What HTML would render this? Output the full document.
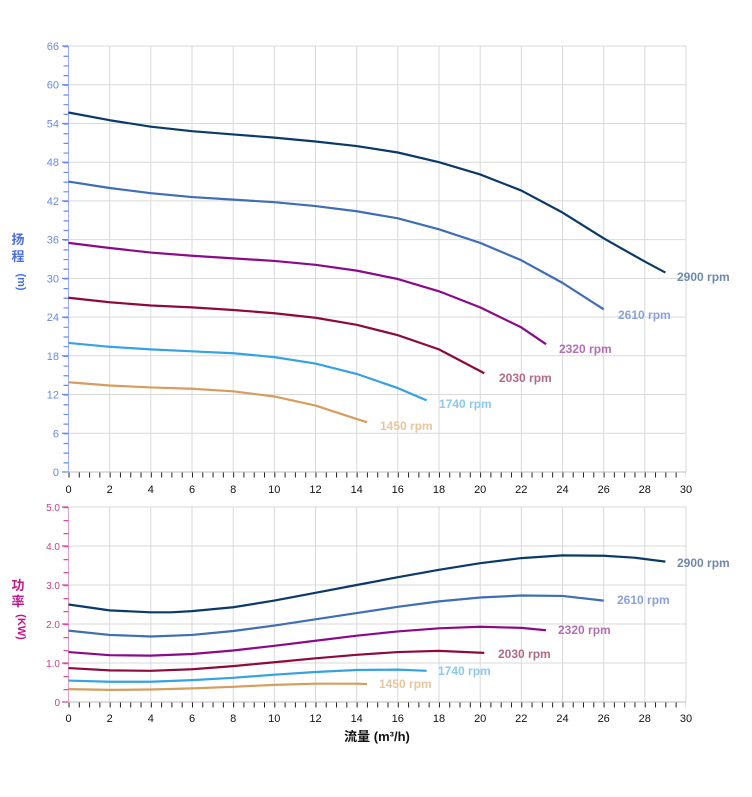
<!DOCTYPE html>
<html><head><meta charset="utf-8"><style>
html,body{margin:0;padding:0;background:#fff;}
svg{display:block;font-family:"Liberation Sans","Noto Sans CJK SC",sans-serif;}
</style></head><body>
<svg width="752" height="797" viewBox="0 0 752 797" xmlns="http://www.w3.org/2000/svg">
<!-- TOP CHART grid -->
<g stroke="#d9d9d9" stroke-width="1">
<line x1="68.5" y1="46" x2="686" y2="46"/><line x1="68.5" y1="84.7" x2="686" y2="84.7"/><line x1="68.5" y1="123.5" x2="686" y2="123.5"/><line x1="68.5" y1="162.2" x2="686" y2="162.2"/><line x1="68.5" y1="200.9" x2="686" y2="200.9"/><line x1="68.5" y1="239.6" x2="686" y2="239.6"/><line x1="68.5" y1="278.4" x2="686" y2="278.4"/><line x1="68.5" y1="317.1" x2="686" y2="317.1"/><line x1="68.5" y1="355.8" x2="686" y2="355.8"/><line x1="68.5" y1="394.5" x2="686" y2="394.5"/><line x1="68.5" y1="433.3" x2="686" y2="433.3"/>
<line x1="109.7" y1="46" x2="109.7" y2="472"/><line x1="150.8" y1="46" x2="150.8" y2="472"/><line x1="192" y1="46" x2="192" y2="472"/><line x1="233.2" y1="46" x2="233.2" y2="472"/><line x1="274.3" y1="46" x2="274.3" y2="472"/><line x1="315.5" y1="46" x2="315.5" y2="472"/><line x1="356.7" y1="46" x2="356.7" y2="472"/><line x1="397.8" y1="46" x2="397.8" y2="472"/><line x1="439" y1="46" x2="439" y2="472"/><line x1="480.2" y1="46" x2="480.2" y2="472"/><line x1="521.3" y1="46" x2="521.3" y2="472"/><line x1="562.5" y1="46" x2="562.5" y2="472"/><line x1="603.7" y1="46" x2="603.7" y2="472"/><line x1="644.8" y1="46" x2="644.8" y2="472"/><line x1="686" y1="46" x2="686" y2="472"/>
</g>
<!-- top axes -->
<line x1="68.5" y1="46" x2="68.5" y2="472" stroke="#9bb0f0" stroke-width="1"/>
<line x1="66" y1="46" x2="66" y2="472" stroke="#6a8ae8" stroke-width="5" stroke-dasharray="1.2 8.48"/>
<g stroke="#6a8ae8" stroke-width="1.3">
<line x1="62" y1="46" x2="68" y2="46"/><line x1="62" y1="84.7" x2="68" y2="84.7"/><line x1="62" y1="123.5" x2="68" y2="123.5"/><line x1="62" y1="162.2" x2="68" y2="162.2"/><line x1="62" y1="200.9" x2="68" y2="200.9"/><line x1="62" y1="239.6" x2="68" y2="239.6"/><line x1="62" y1="278.4" x2="68" y2="278.4"/><line x1="62" y1="317.1" x2="68" y2="317.1"/><line x1="62" y1="355.8" x2="68" y2="355.8"/><line x1="62" y1="394.5" x2="68" y2="394.5"/><line x1="62" y1="433.3" x2="68" y2="433.3"/><line x1="62" y1="472" x2="68" y2="472"/>
</g>
<line x1="68.5" y1="472" x2="686" y2="472" stroke="#bbb" stroke-width="1"/>
<line x1="68.5" y1="475" x2="686" y2="475" stroke="#222" stroke-width="5" stroke-dasharray="1 9.29"/>
<g fill="#6a8ae8" font-size="11" text-anchor="end">
<text x="59" y="50">66</text><text x="59" y="88.7">60</text><text x="59" y="127.5">54</text><text x="59" y="166.2">48</text><text x="59" y="204.9">42</text><text x="59" y="243.6">36</text><text x="59" y="282.4">30</text><text x="59" y="321.1">24</text><text x="59" y="359.8">18</text><text x="59" y="398.5">12</text><text x="59" y="437.3">6</text><text x="59" y="476">0</text>
</g>
<g fill="#111" font-size="11" text-anchor="middle">
<text x="68.5" y="493">0</text><text x="109.7" y="493">2</text><text x="150.8" y="493">4</text><text x="192" y="493">6</text><text x="233.2" y="493">8</text><text x="274.3" y="493">10</text><text x="315.5" y="493">12</text><text x="356.7" y="493">14</text><text x="397.8" y="493">16</text><text x="439" y="493">18</text><text x="480.2" y="493">20</text><text x="521.3" y="493">22</text><text x="562.5" y="493">24</text><text x="603.7" y="493">26</text><text x="644.8" y="493">28</text><text x="686" y="493">30</text>
</g>
<g fill="#4a6fe0" font-size="13" font-weight="bold" text-anchor="middle">
<text x="18" y="244">扬</text><text x="18" y="261">程</text>
<text x="18" y="282" font-size="11" transform="rotate(90 18 282)">(m)</text>
</g>
<!-- top curves -->
<g fill="none" stroke-width="2.2" stroke-linejoin="round" transform="translate(68.5,472) scale(20.583,-6.4545)">
<polyline vector-effect="non-scaling-stroke" stroke="#0b3968" points="0,55.7 2,54.5 4,53.5 6,52.8 8,52.3 10,51.8 12,51.2 14,50.5 16,49.5 18,48 20,46.1 22,43.6 24,40.2 26,36.2 28,32.6 29,30.9"/>
<polyline vector-effect="non-scaling-stroke" stroke="#3f6db6" points="0,45 2,44 4,43.2 6,42.6 8,42.2 10,41.8 12,41.2 14,40.4 16,39.3 18,37.6 20,35.5 22,32.8 24,29.3 26,25.2"/>
<polyline vector-effect="non-scaling-stroke" stroke="#8a0b8a" points="0,35.5 2,34.7 4,34 6,33.5 8,33.1 10,32.7 12,32.1 14,31.2 16,29.9 18,28 20,25.5 22,22.4 23.2,19.8"/>
<polyline vector-effect="non-scaling-stroke" stroke="#8a0b3c" points="0,27 2,26.3 4,25.8 6,25.5 8,25.1 10,24.6 12,23.9 14,22.8 16,21.2 18,19 20.2,15.3"/>
<polyline vector-effect="non-scaling-stroke" stroke="#36a2e0" points="0,20 2,19.4 4,19 6,18.7 8,18.4 10,17.8 12,16.8 14,15.2 16,13 17.4,11.1"/>
<polyline vector-effect="non-scaling-stroke" stroke="#d59d5e" points="0,13.9 2,13.4 4,13.1 6,12.9 8,12.5 10,11.7 12,10.3 14.5,7.7"/>
</g>
<g font-size="12" font-weight="bold">
<text x="677" y="281" fill="#6f8aa8">2900 rpm</text>
<text x="618" y="319" fill="#8aa3d6">2610 rpm</text>
<text x="559" y="353" fill="#b36fb3">2320 rpm</text>
<text x="499" y="382" fill="#b46a80">2030 rpm</text>
<text x="439" y="408" fill="#8cc9ee">1740 rpm</text>
<text x="380" y="430" fill="#e8c69c">1450 rpm</text>
</g>

<!-- BOTTOM CHART grid -->
<g stroke="#d9d9d9" stroke-width="1">
<line x1="68.5" y1="507" x2="686" y2="507"/><line x1="68.5" y1="546" x2="686" y2="546"/><line x1="68.5" y1="585" x2="686" y2="585"/><line x1="68.5" y1="624" x2="686" y2="624"/><line x1="68.5" y1="663" x2="686" y2="663"/>
<line x1="109.7" y1="507" x2="109.7" y2="702"/><line x1="150.8" y1="507" x2="150.8" y2="702"/><line x1="192" y1="507" x2="192" y2="702"/><line x1="233.2" y1="507" x2="233.2" y2="702"/><line x1="274.3" y1="507" x2="274.3" y2="702"/><line x1="315.5" y1="507" x2="315.5" y2="702"/><line x1="356.7" y1="507" x2="356.7" y2="702"/><line x1="397.8" y1="507" x2="397.8" y2="702"/><line x1="439" y1="507" x2="439" y2="702"/><line x1="480.2" y1="507" x2="480.2" y2="702"/><line x1="521.3" y1="507" x2="521.3" y2="702"/><line x1="562.5" y1="507" x2="562.5" y2="702"/><line x1="603.7" y1="507" x2="603.7" y2="702"/><line x1="644.8" y1="507" x2="644.8" y2="702"/><line x1="686" y1="507" x2="686" y2="702"/>
</g>
<line x1="68.5" y1="507" x2="68.5" y2="702" stroke="#e0a0c8" stroke-width="1"/>
<line x1="66" y1="507" x2="66" y2="702" stroke="#d0509a" stroke-width="5" stroke-dasharray="1.2 11.8"/>
<g stroke="#d0509a" stroke-width="1.3">
<line x1="62" y1="507" x2="68" y2="507"/><line x1="62" y1="546" x2="68" y2="546"/><line x1="62" y1="585" x2="68" y2="585"/><line x1="62" y1="624" x2="68" y2="624"/><line x1="62" y1="663" x2="68" y2="663"/><line x1="62" y1="702" x2="68" y2="702"/>
</g>
<line x1="68.5" y1="702" x2="686" y2="702" stroke="#bbb" stroke-width="1"/>
<line x1="68.5" y1="705" x2="686" y2="705" stroke="#222" stroke-width="5" stroke-dasharray="1 9.29"/>
<g fill="#d0407a" font-size="10" text-anchor="end">
<text x="60" y="511">5.0</text><text x="60" y="550">4.0</text><text x="60" y="589">3.0</text><text x="60" y="628">2.0</text><text x="60" y="667">1.0</text><text x="60" y="706">0</text>
</g>
<g fill="#111" font-size="11" text-anchor="middle">
<text x="68.5" y="722">0</text><text x="109.7" y="722">2</text><text x="150.8" y="722">4</text><text x="192" y="722">6</text><text x="233.2" y="722">8</text><text x="274.3" y="722">10</text><text x="315.5" y="722">12</text><text x="356.7" y="722">14</text><text x="397.8" y="722">16</text><text x="439" y="722">18</text><text x="480.2" y="722">20</text><text x="521.3" y="722">22</text><text x="562.5" y="722">24</text><text x="603.7" y="722">26</text><text x="644.8" y="722">28</text><text x="686" y="722">30</text>
</g>
<g fill="#c0188a" font-size="13" font-weight="bold" text-anchor="middle">
<text x="18" y="590">功</text><text x="18" y="606">率</text>
<text x="18" y="627" font-size="11" transform="rotate(90 18 627)">(KW)</text>
</g>
<text x="377" y="741" font-size="13" font-weight="bold" text-anchor="middle" fill="#111">流量 (m³/h)</text>
<!-- bottom curves -->
<g fill="none" stroke-width="2.2" stroke-linejoin="round" transform="translate(68.5,702) scale(20.583,-39)">
<polyline vector-effect="non-scaling-stroke" stroke="#0b3968" points="0,2.5 2,2.35 4,2.3 5,2.3 6,2.33 8,2.43 10,2.6 12,2.8 14,3 16,3.2 18,3.39 20,3.56 22,3.69 24,3.76 26,3.75 27.5,3.7 29,3.6"/>
<polyline vector-effect="non-scaling-stroke" stroke="#3f6db6" points="0,1.83 2,1.72 4,1.68 6,1.72 8,1.82 10,1.96 12,2.12 14,2.28 16,2.44 18,2.58 20,2.68 22,2.73 24,2.72 26,2.6"/>
<polyline vector-effect="non-scaling-stroke" stroke="#8a0b8a" points="0,1.28 2,1.2 4,1.19 6,1.23 8,1.32 10,1.44 12,1.57 14,1.7 16,1.81 18,1.89 20,1.93 22,1.9 23.2,1.84"/>
<polyline vector-effect="non-scaling-stroke" stroke="#8a0b3c" points="0,0.87 2,0.81 4,0.8 6,0.84 8,0.92 10,1.02 12,1.12 14,1.21 16,1.28 18,1.31 20.2,1.26"/>
<polyline vector-effect="non-scaling-stroke" stroke="#36a2e0" points="0,0.55 2,0.52 4,0.52 6,0.56 8,0.62 10,0.7 12,0.77 14,0.82 16,0.83 17.4,0.8"/>
<polyline vector-effect="non-scaling-stroke" stroke="#d59d5e" points="0,0.33 2,0.31 4,0.32 6,0.35 8,0.39 10,0.44 12,0.47 14,0.47 14.5,0.46"/>
</g>
<g font-size="12" font-weight="bold">
<text x="677" y="567" fill="#6f8aa8">2900 rpm</text>
<text x="617" y="604" fill="#8aa3d6">2610 rpm</text>
<text x="558" y="634" fill="#b36fb3">2320 rpm</text>
<text x="498" y="658" fill="#b46a80">2030 rpm</text>
<text x="438" y="675" fill="#8cc9ee">1740 rpm</text>
<text x="379" y="688" fill="#e8c69c">1450 rpm</text>
</g>
</svg>
</body></html>
